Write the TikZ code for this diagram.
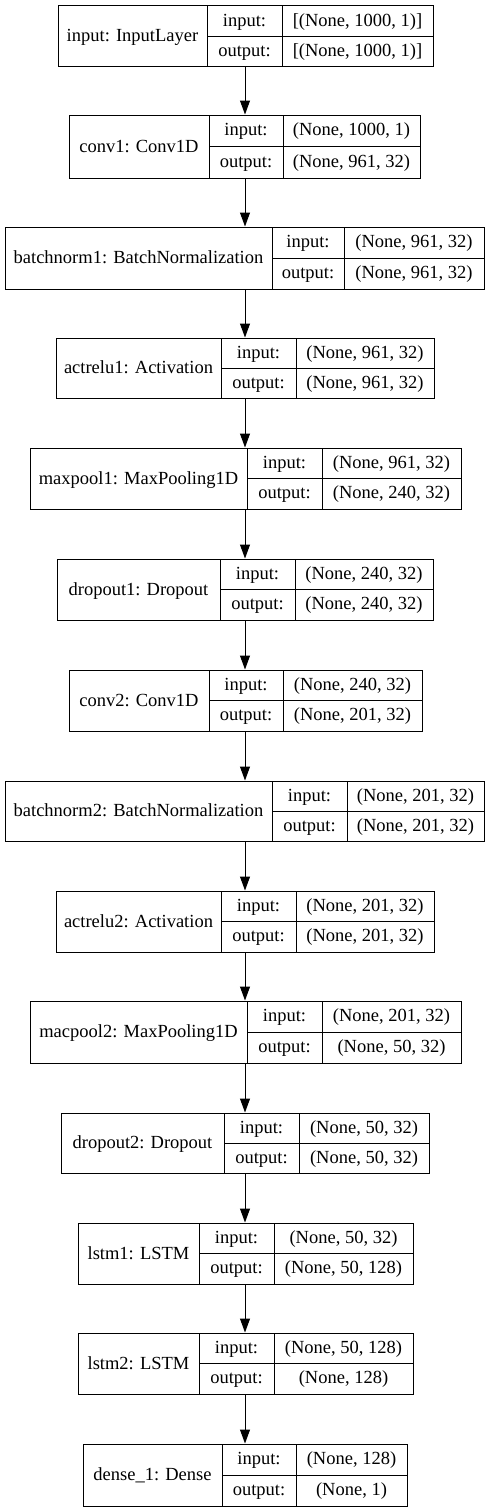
\documentclass[tikz,border=0pt]{standalone}
\usepackage{fontspec}
\setmainfont{Liberation Serif}
\newfontfamily\kfont{Liberation Serif}
\usetikzlibrary{arrows.meta}
\tikzset{
  frame/.style={draw=black, line width=1pt, inner sep=0pt, fill=white},
  rule/.style={draw=black, line width=1pt},
  txt/.style={anchor=base, inner sep=0pt, font=\kfont\fontsize{18.5}{22}\selectfont},
  arr/.style={draw=black, line width=1pt, -{Triangle[length=14pt,width=10pt]}}
}
% #1 name, #2 top, #3 bottom, #4 xL, #5 d1, #6 d2, #7 xR, #8 label
\newcommand\kbox[8]{%
  \pgfmathsetmacro\kW{#7-#4}%
  \pgfmathsetmacro\kH{#3-#2}%
  \pgfmathsetmacro\kCx{(#4+#7)/2}%
  \pgfmathsetmacro\kCy{(#2+#3)/2}%
  \pgfmathsetmacro\kLx{(#4+#5)/2}%
  \pgfmathsetmacro\kMx{(#5+#6)/2}%
  \pgfmathsetmacro\kRx{(#6+#7)/2}%
  \pgfmathsetmacro\kUy{(#2+\kCy)/2}%
  \pgfmathsetmacro\kDy{(\kCy+#3)/2}%
  \node[frame, minimum width=\kW pt, minimum height=\kH pt] (#1) at (\kCx,\kCy) {};
  \draw[rule] (#5,#2) -- (#5,#3);
  \draw[rule] (#6,#2) -- (#6,#3);
  \draw[rule] (#5,\kCy) -- (#7,\kCy);
  \node[txt] (#1-name) at (\kLx,\kCy+5.5) {#8};
  \node[txt] (#1-ik) at (\kMx,\kUy+5) {input:};
  \node[txt] (#1-ok) at (\kMx,\kDy+5) {output:};
}
% #1 name, #2 input value, #3 output value
\newcommand\kio[3]{%
  \node[txt] (#1-iv) at (\kRx,\kUy+5) {#2};
  \node[txt] (#1-ov) at (\kRx,\kDy+5) {#3};
}
\begin{document}
\begin{tikzpicture}[x=1pt, y=-1pt]
\useasboundingbox (0,0) rectangle (491,1512);
\coordinate (ax) at (245,0);

\kbox{b1}{6}{67}{58}{207}{282}{433}{input: InputLayer}
\kio{b1}{[(None, 1000, 1)]}{[(None, 1000, 1)]}

\kbox{b2}{115}{178}{69}{209}{283}{420}{conv1: Conv1D}
\kio{b2}{(None, 1000, 1)}{(None, 961, 32)}

\kbox{b3}{227}{289}{5}{272}{344}{484}{batchnorm1: BatchNormalization}
\kio{b3}{(None, 961, 32)}{(None, 961, 32)}

\kbox{b4}{338}{398}{56}{221}{296}{434}{actrelu1: Activation}
\kio{b4}{(None, 961, 32)}{(None, 961, 32)}

\kbox{b5}{448}{509}{30}{247}{322}{461}{maxpool1: MaxPooling1D}
\kio{b5}{(None, 961, 32)}{(None, 240, 32)}

\kbox{b6}{559}{620}{57}{220}{295}{433}{dropout1: Dropout}
\kio{b6}{(None, 240, 32)}{(None, 240, 32)}

\kbox{b7}{670}{731}{69}{209}{283}{422}{conv2: Conv1D}
\kio{b7}{(None, 240, 32)}{(None, 201, 32)}

\kbox{b8}{781}{841}{5}{272}{347}{484}{batchnorm2: BatchNormalization}
\kio{b8}{(None, 201, 32)}{(None, 201, 32)}

\kbox{b9}{891}{952}{56}{221}{296}{434}{actrelu2: Activation}
\kio{b9}{(None, 201, 32)}{(None, 201, 32)}

\kbox{b10}{1001}{1063}{30}{247}{322}{461}{macpool2: MaxPooling1D}
\kio{b10}{(None, 201, 32)}{(None, 50, 32)}

\kbox{b11}{1113}{1173}{61}{224}{299}{429}{dropout2: Dropout}
\kio{b11}{(None, 50, 32)}{(None, 50, 32)}

\kbox{b12}{1223}{1284}{78}{199}{274}{413}{lstm1: LSTM}
\kio{b12}{(None, 50, 32)}{(None, 50, 128)}

\kbox{b13}{1333}{1394}{78}{199}{274}{413}{lstm2: LSTM}
\kio{b13}{(None, 50, 128)}{(None, 128)}

\kbox{b14}{1444}{1506}{83}{222}{296}{407}{dense\_1: Dense}
\kio{b14}{(None, 128)}{(None, 1)}

\foreach \a/\b in {b1/b2,b2/b3,b3/b4,b4/b5,b5/b6,b6/b7,b7/b8,b8/b9,b9/b10,b10/b11,b11/b12,b12/b13,b13/b14}
  \draw[arr] (\a.south -| ax) -- (\b.north -| ax);
\end{tikzpicture}
\end{document}
